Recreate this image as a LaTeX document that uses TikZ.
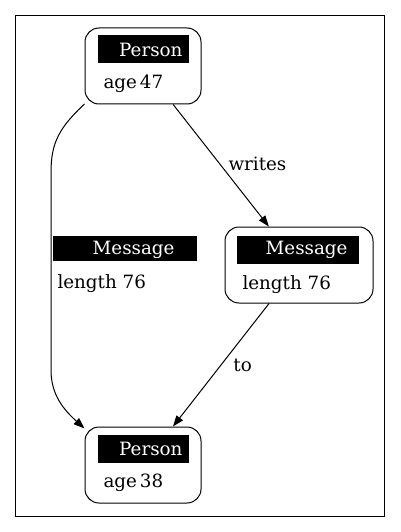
\documentclass[tikz,border=0pt]{standalone}
\usepackage{fontspec}
\setmainfont{DejaVu Serif}
\usetikzlibrary{arrows.meta}
\begin{document}
\begin{tikzpicture}[x=1pt,y=-1pt,line width=1pt,
  box/.style={draw,rounded corners=14pt,minimum width=#1,inner sep=0pt,minimum height=76pt},
  bar/.style={fill=black,inner sep=0pt,minimum height=28pt,minimum width=#1},
  hdr/.style={text=white,anchor=base east,inner sep=0pt},
  attr/.style={anchor=base west,inner sep=0pt},
  lbl/.style={inner sep=0pt,anchor=base west},
  edge/.style={draw,-{Triangle[length=11pt,width=8pt]}},
  every node/.style={font=\fontsize{18.3}{20}\selectfont}]
\useasboundingbox (0,0) rectangle (400,532);
\draw (15.5,15.5) rectangle (384.5,516.5);
% nodes
\node[box=116pt] (p1) at (143,66) {};
\node[box=148pt] (m) at (299,265) {};
\node[box=116pt] (p2) at (143,465) {};
% headers
\node[bar=91pt] (p1h) at (143.5,49) {};
\node[hdr] (p1t) at (183,56.5) {Person};
\node[attr] (p1a) at (103,88.3) {age\,47};
\node[bar=122pt] (mh) at (298,249.5) {};
\node[hdr] (mt) at (348,254.5) {Message};
\node[attr] (ma) at (242,289) {length 76};
\node[bar=91pt] (p2h) at (143.5,449) {};
\node[hdr] (p2t) at (183,455.5) {Person};
\node[attr] (p2a) at (103,487.5) {age\,38};
% edge label on left edge
\node[bar=144pt,minimum height=25pt] (lh) at (125,248.8) {};
\node[hdr] (lt) at (175,254.7) {Message};
\node[attr] (la) at (57,288) {length 76};
% edges
\draw[edge] (p1) -- (m) node[pos=0.5,lbl,xshift=7pt,yshift=-5pt] (w) {writes};
\draw[edge] (m) -- (p2) node[pos=0.5,lbl,xshift=12pt,yshift=-6.5pt] (t) {to};
\draw[edge] (p1.213) .. controls (60,127) and (51,142) .. (51,172) -- (51,370) .. controls (51,395) and (64,410) .. (p2.148);
\end{tikzpicture}
\end{document}
